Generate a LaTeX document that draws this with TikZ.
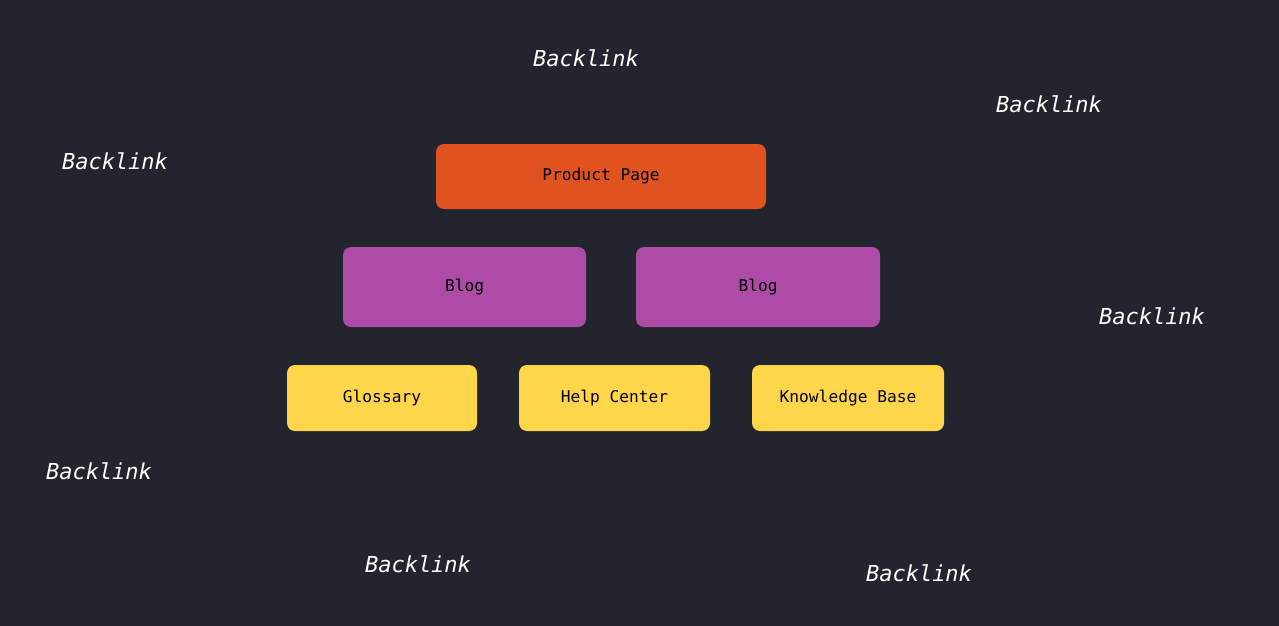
\documentclass[tikz,border=0pt]{standalone}
\usepackage{fontspec}
\setmonofont{DejaVu Sans Mono}
\usetikzlibrary {positioning}
\definecolor{bgdark}{HTML}{22252D}
\definecolor{pageorange}{HTML}{E0531F}
\definecolor{blogpurple}{HTML}{AD4BA6}
\definecolor{docyellow}{HTML}{FFD54A}
\begin{document}
\begin{tikzpicture}[x=1pt,y=-1pt,
      every node/.style={font=\ttfamily\fontsize{16.2}{19}\selectfont, text=black},
      box/.style={rounded corners=8pt, inner sep=0pt, minimum height=66pt},
      backlink/.style={text=white, font=\ttfamily\itshape\fontsize{22}{26}\selectfont}]
      \fill[bgdark] (0,0) rectangle (1279,626);
      \useasboundingbox (0,0) rectangle (1279,626);
      \node[box, fill=pageorange, minimum width=330pt, minimum height=65pt] (page) at (601,176.5) {Product Page};
      \node[box, fill=blogpurple, minimum width=243pt, minimum height=80pt] (blog_1) at (464.5,287) {Blog};
      \node[box, fill=blogpurple, minimum width=244pt, minimum height=80pt] (blog_2) at (758,287) {Blog};
      \node[box, fill=docyellow, minimum width=190pt] (glossary) at (382,398) {Glossary};
      \node[box, fill=docyellow, minimum width=191pt] (help) at (614.5,398) {Help Center};
      \node[box, fill=docyellow, minimum width=192pt] (kb) at (848,398) {Knowledge Base};
      % backlinks
      \node[backlink] (bl_1) at (586,58) {Backlink};
      \node[backlink] (bl_2) at (1049,104) {Backlink};
      \node[backlink] (bl_3) at (115,161) {Backlink};
      \node[backlink] (bl_4) at (1152,316) {Backlink};
      \node[backlink] (bl_5) at (99,471) {Backlink};
      \node[backlink] (bl_6) at (418,564) {Backlink};
      \node[backlink] (bl_7) at (919,573) {Backlink};
    \end{tikzpicture}
\end{document}
